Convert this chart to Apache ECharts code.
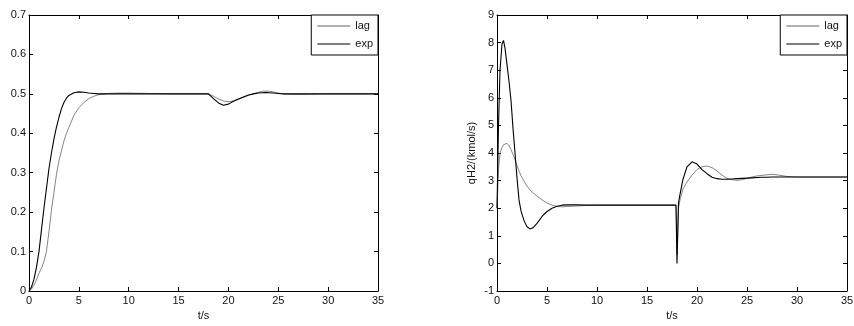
<!DOCTYPE html>
<html>
<head>
<meta charset="utf-8">
<script src="https://cdn.jsdelivr.net/npm/echarts@6/dist/echarts.min.js"></script>
<style>
  html, body { margin: 0; padding: 0; background: #fff; }
  #chart { width: 854px; height: 326px; }
</style>
</head>
<body>
<div id="chart"></div>
<script>
// left panel: response, t in seconds
const tLeft = [0, 0.25, 0.5, 0.75, 1, 1.25, 1.5, 1.75, 2, 2.25, 2.5, 2.75, 3, 3.25, 3.5, 3.75, 4, 4.5, 5, 5.5, 6, 6.5, 7, 8, 9, 10, 12, 14, 16, 18,
  18.5, 19, 19.5, 20, 20.5, 21, 21.5, 22, 22.5, 23, 23.5, 24, 24.5, 25, 25.5, 26, 27, 28, 30, 35];
const expLeft = [0, 0.01, 0.03, 0.06, 0.1, 0.155, 0.21, 0.26, 0.31, 0.35, 0.385, 0.415, 0.44, 0.462, 0.478, 0.489, 0.496, 0.503, 0.505, 0.504, 0.502, 0.501, 0.5, 0.5, 0.5, 0.5, 0.5, 0.5, 0.5, 0.5,
  0.488, 0.477, 0.471, 0.474, 0.481, 0.487, 0.492, 0.497, 0.5, 0.502, 0.503, 0.503, 0.502, 0.501, 0.5, 0.5, 0.5, 0.5, 0.5, 0.5];
const lagLeft = [0, 0.005, 0.015, 0.028, 0.045, 0.058, 0.075, 0.1, 0.15, 0.205, 0.25, 0.295, 0.33, 0.355, 0.38, 0.4, 0.415, 0.445, 0.465, 0.478, 0.488, 0.494, 0.498, 0.501, 0.502, 0.502, 0.501, 0.5, 0.5, 0.5,
  0.494, 0.487, 0.482, 0.48, 0.482, 0.486, 0.491, 0.496, 0.5, 0.504, 0.507, 0.507, 0.505, 0.502, 0.5, 0.499, 0.4985, 0.499, 0.5, 0.5];

// right panel: qH2
const tRight = [0, 0.15, 0.3, 0.5, 0.65, 0.8, 1.0, 1.2, 1.4, 1.6, 1.8, 2.0, 2.2, 2.4, 2.7, 3.0, 3.3, 3.6, 4.0, 4.5, 5.0, 5.5, 6.0, 6.5, 7.0, 8, 9, 10, 17.9,
  18, 18.15, 18.3, 18.6, 19, 19.5, 20, 20.5, 21, 21.5, 22, 22.5, 23, 23.5, 24, 24.5, 25, 25.5, 26, 26.5, 27, 27.5, 28, 28.5, 29, 30, 35];
const expRight = [2.0, 5.0, 7.0, 7.95, 8.08, 7.8, 7.2, 6.6, 5.9, 4.9, 4.0, 3.1, 2.3, 1.9, 1.55, 1.33, 1.25, 1.29, 1.45, 1.7, 1.88, 2.0, 2.07, 2.11, 2.12, 2.12, 2.11, 2.11, 2.11,
  0.0, 2.2, 2.5, 3.05, 3.5, 3.68, 3.6, 3.4, 3.25, 3.12, 3.07, 3.05, 3.05, 3.06, 3.07, 3.08, 3.09, 3.1, 3.11, 3.12, 3.12, 3.13, 3.13, 3.13, 3.13, 3.13, 3.13];
const lagRight = [2.0, 3.4, 4.0, 4.2, 4.3, 4.34, 4.35, 4.27, 4.12, 3.95, 3.75, 3.55, 3.35, 3.18, 2.98, 2.8, 2.66, 2.56, 2.44, 2.3, 2.19, 2.11, 2.06, 2.05, 2.06, 2.08, 2.1, 2.11, 2.11,
  0.3, 2.0, 2.3, 2.7, 2.95, 3.2, 3.4, 3.5, 3.53, 3.47, 3.35, 3.2, 3.08, 3.03, 3.01, 3.03, 3.08, 3.13, 3.17, 3.19, 3.21, 3.23, 3.21, 3.18, 3.15, 3.13, 3.13];

const lagColor = '#666';
const expColor = '#000';

const font = 'Liberation Sans, Arial, sans-serif';
const pairs = (t, v) => t.map((x, i) => [x, v[i]]);

function xAx(grid, pos, showLabel, name) {
    return {
        type: 'value', gridIndex: grid, position: pos, min: 0, max: 35, interval: 5,
        name: name, nameLocation: 'middle', nameGap: 19,
        nameTextStyle: { color: '#111', fontSize: 11, fontFamily: font },
        axisLine: { show: true, onZero: false, lineStyle: { color: '#000', width: 1 } },
        axisTick: { show: true, inside: true, length: 4, lineStyle: { color: '#000' } },
        axisLabel: { show: showLabel, color: '#111', fontSize: 11, fontFamily: font, margin: 4 },
        splitLine: { show: false }
    };
}

function yAx(grid, pos, showLabel, min, max, step, name, gap) {
    return {
        type: 'value', gridIndex: grid, position: pos, min: min, max: max, interval: step,
        name: name, nameLocation: 'middle', nameGap: gap, nameRotate: 90,
        nameTextStyle: { color: '#111', fontSize: 11, fontFamily: font },
        axisLine: { show: true, onZero: false, lineStyle: { color: '#000', width: 1 } },
        axisTick: { show: true, inside: true, length: 4, lineStyle: { color: '#000' } },
        axisLabel: { show: showLabel, color: '#111', fontSize: 11, fontFamily: font, margin: 3 },
        splitLine: { show: false }
    };
}

function legendAt(right) {
    return {
        data: [
            { name: 'lag', icon: 'rect', itemStyle: { color: lagColor } },
            { name: 'exp', icon: 'rect', itemStyle: { color: expColor } }
        ],
        orient: 'vertical', top: 15, right: right, align: 'left',
        backgroundColor: '#fff', borderColor: '#000', borderWidth: 1, borderRadius: 0,
        padding: [5, 5, 5, 6], itemGap: 6, itemWidth: 33, itemHeight: 1,
        textStyle: { color: '#111', fontSize: 11, fontFamily: font, lineHeight: 12 }
    };
}

function line(name, x, y, data, color, width) {
    return {
        name: name, type: 'line', xAxisIndex: x, yAxisIndex: y, data: data,
        symbol: 'none', showSymbol: false, smooth: false,
        lineStyle: { color: color, width: width }, itemStyle: { color: color },
        z: name === 'exp' ? 3 : 2
    };
}

const chart = echarts.init(document.getElementById('chart'), null, { renderer: 'canvas' });
chart.setOption({
    animation: false,
    backgroundColor: '#fff',
    grid: [
        { left: 29, top: 15, width: 349, height: 276, containLabel: false, outerBoundsMode: 'none' },
        { left: 497, top: 15, width: 350, height: 276, containLabel: false, outerBoundsMode: 'none' }
    ],
    xAxis: [
        xAx(0, 'bottom', true, 't/s'), xAx(0, 'top', false, ''),
        xAx(1, 'bottom', true, 't/s'), xAx(1, 'top', false, '')
    ],
    yAxis: [
        yAx(0, 'left', true, 0, 0.7, 0.1, 'P/MPa', 34), yAx(0, 'right', false, 0, 0.7, 0.1, '', 0),
        yAx(1, 'left', true, -1, 9, 1, 'qH2/(kmol/s)', 20), yAx(1, 'right', false, -1, 9, 1, '', 0)
    ],
    legend: [legendAt(476), legendAt(7)],
    series: [
        line('lag', 0, 0, pairs(tLeft, lagLeft), lagColor, 0.8),
        line('exp', 0, 0, pairs(tLeft, expLeft), expColor, 1.1),
        line('lag', 2, 2, pairs(tRight, lagRight), lagColor, 0.8),
        line('exp', 2, 2, pairs(tRight, expRight), expColor, 1.1)
    ]
});
</script>
</body>
</html>
